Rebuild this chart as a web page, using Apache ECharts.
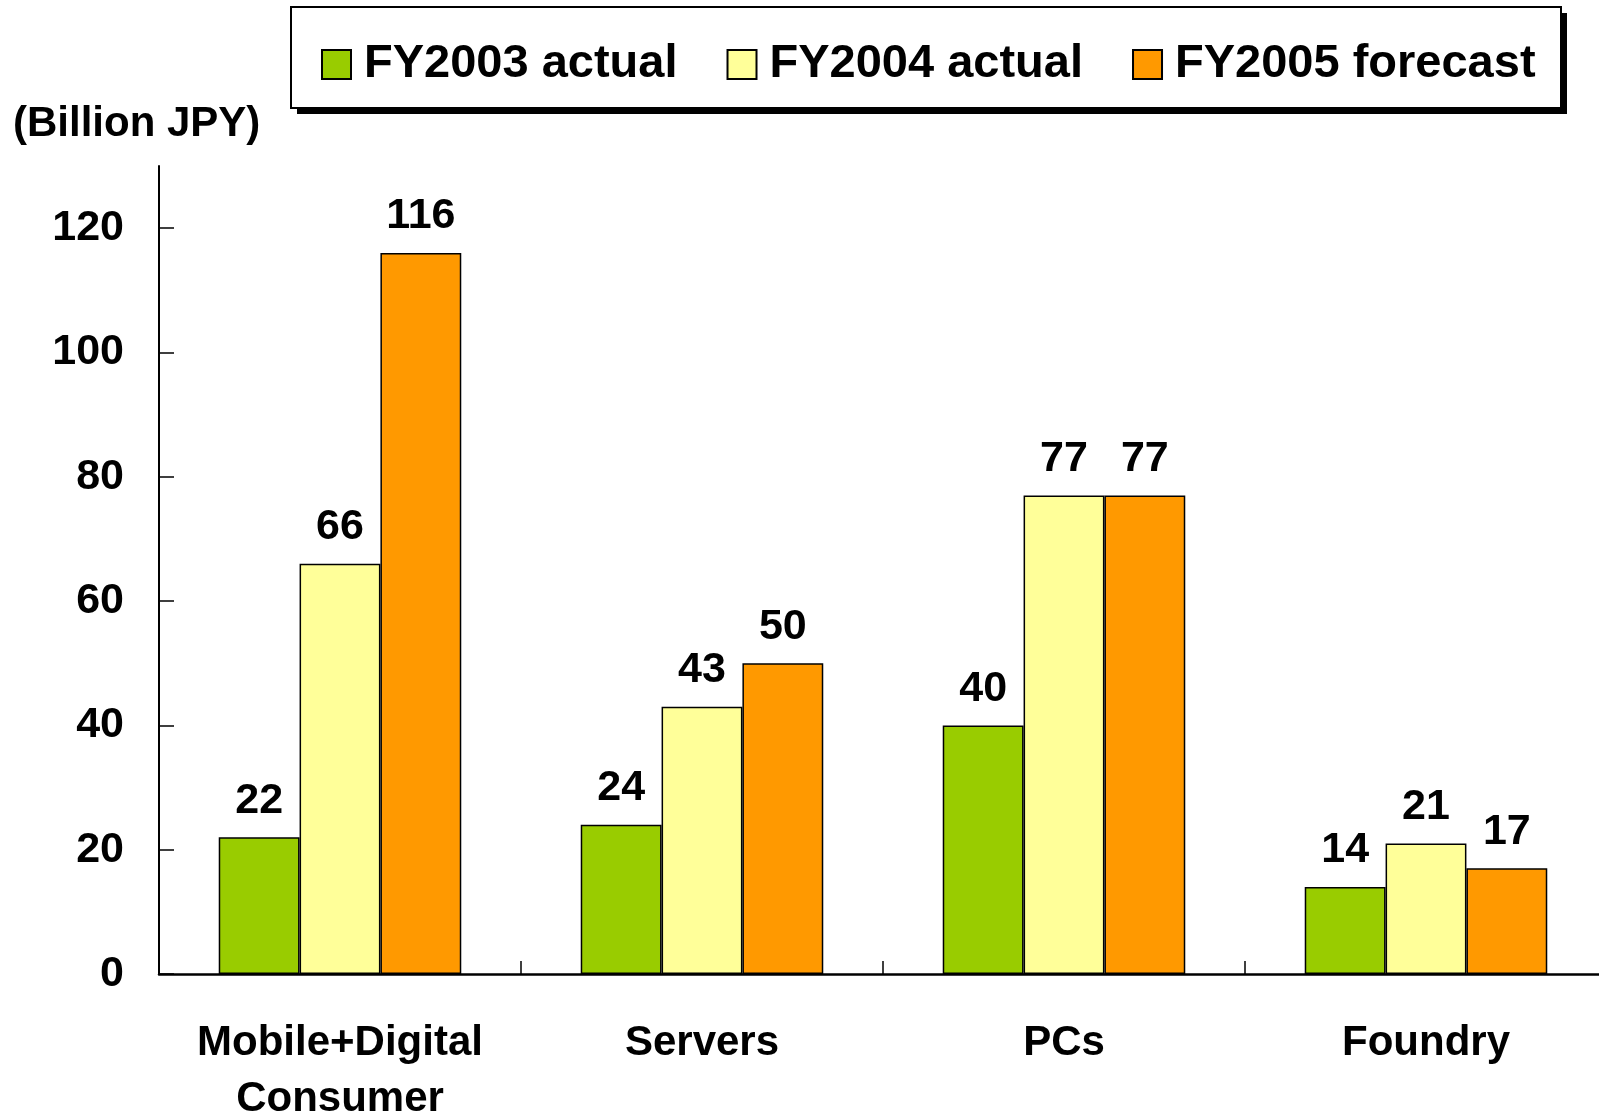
<!DOCTYPE html>
<html>
<head>
<meta charset="utf-8">
<script src="https://cdn.jsdelivr.net/npm/echarts@6/dist/echarts.min.js"></script>
<style>
html,body{margin:0;padding:0;background:#fff;}
#chart{width:1599px;height:1115px;}
</style>
</head>
<body>
<div id="chart"></div>
<script>
const categories = ['Mobile+Digital\nConsumer', 'Servers', 'PCs', 'Foundry'];
const seriesNames = ['FY2003 actual', 'FY2004 actual', 'FY2005 forecast'];
const fy2003 = [22, 24, 40, 14];
const fy2004 = [66, 43, 77, 21];
const fy2005 = [116, 50, 77, 17];
const yTicks = [0, 20, 40, 60, 80, 100, 120];
const unitLabel = '(Billion JPY)';

const FONT = 'Arial, "Liberation Sans", sans-serif';
const colors = ['#99CC00', '#FFFF99', '#FF9900'];
const values = [fy2003, fy2004, fy2005];

const chart = echarts.init(document.getElementById('chart'), null, {renderer: 'canvas'});
chart.setOption({
  animation: false,
  backgroundColor: '#ffffff',
  textStyle: {fontFamily: FONT},
  graphic: [
    {type: 'rect', z: 0, shape: {x: 297, y: 13, width: 1270, height: 101}, style: {fill: '#000'}},
    {type: 'rect', z: 1, shape: {x: 291, y: 7, width: 1270, height: 101}, style: {fill: '#fff', stroke: '#000', lineWidth: 2}},
    {type: 'text', z: 5, left: 13, top: 103, style: {text: unitLabel, font: 'bold 42px ' + FONT, fill: '#000'}}
  ],
  legend: {
    z: 10,
    left: 321,
    top: 41,
    padding: 0,
    icon: 'rect',
    itemWidth: 29,
    itemHeight: 29,
    itemGap: 49,
    data: seriesNames,
    textStyle: {fontSize: 47, fontWeight: 'bold', color: '#000', fontFamily: FONT, lineHeight: 47, padding: [0, 0, 0, 8]}
  },
  grid: {left: 159, right: -8, top: 166, bottom: 141, containLabel: false, outerBoundsMode: 'none'},
  xAxis: {
    type: 'category',
    data: categories,
    axisLine: {lineStyle: {color: '#000', width: 2.5}},
    axisTick: {show: true, inside: true, length: 13, lineStyle: {color: '#000', width: 1.5}},
    axisLabel: {color: '#000', fontSize: 42, fontWeight: 'bold', fontFamily: FONT, lineHeight: 56, margin: 41, interval: 0}
  },
  yAxis: {
    type: 'value',
    min: 0,
    max: 130,
    interval: 20,
    splitLine: {show: false},
    axisLine: {show: true, lineStyle: {color: '#000', width: 2}},
    axisTick: {show: true, inside: true, length: 15, customValues: yTicks, lineStyle: {color: '#000', width: 1.5}},
    axisLabel: {color: '#000', fontSize: 43, fontWeight: 'bold', fontFamily: FONT, margin: 35, customValues: yTicks}
  },
  series: seriesNames.map((name, i) => ({
    name: name,
    type: 'bar',
    data: values[i],
    barGap: '0%',
    barCategoryGap: '33%',
    itemStyle: {color: colors[i], borderColor: '#000', borderWidth: 1.5},
    label: {show: true, position: 'top', distance: 15, color: '#000', fontSize: 43, fontWeight: 'bold', fontFamily: FONT}
  }))
});
</script>
</body>
</html>
